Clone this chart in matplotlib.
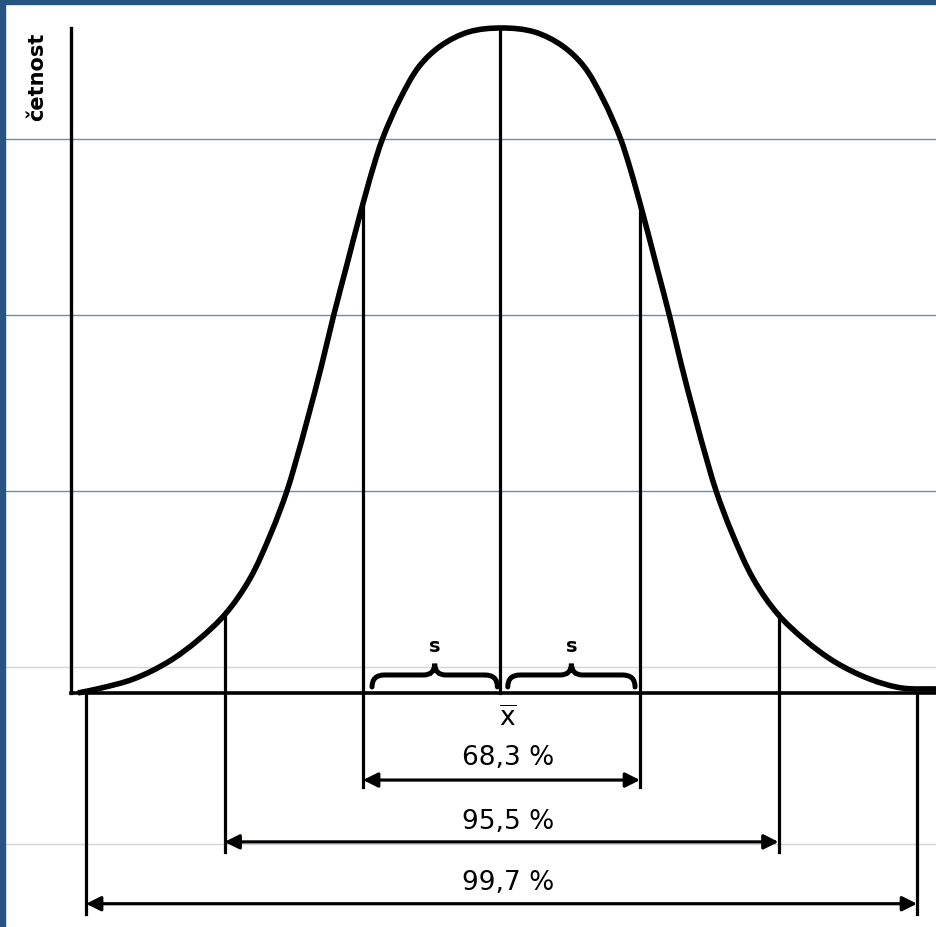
import matplotlib.pyplot as plt
from matplotlib.path import Path
from matplotlib.patches import PathPatch, Rectangle
import numpy as np

# bell curve (x in units of s from the mean, y = relative frequency)
half_width = [0.0, 0.238, 0.440, 0.592, 0.733, 0.860, 0.924, 1.025, 1.119, 1.213, 1.300,
              1.394, 1.495, 1.552, 1.661, 1.819, 1.993, 2.188, 2.404, 2.657, 2.888]
height = [1.0, 0.994, 0.973, 0.943, 0.893, 0.833, 0.792, 0.717, 0.642, 0.567, 0.492,
          0.417, 0.341, 0.302, 0.242, 0.171, 0.119, 0.080, 0.047, 0.021, 0.0075]
# ends of the curve where it runs into the baseline / off the page
left_end = (-3.058, 0.0)
right_end = (3.144, 0.006)

# marker lines at multiples of s, where they meet the curve and how far down they go
sigma_pos = [-3, -2, -1, 0, 1, 2, 3]
sigma_top = [0.0, 0.118, 0.735, 1.0, 0.735, 0.118, 0.0]
sigma_bottom = [-0.332, -0.239, -0.142, 0.0, -0.142, -0.239, -0.332]

# percentage ranges
ranges = [1, 2, 3]
range_labels = ['68,3 %', '95,5 %', '99,7 %']
arrow_y = [-0.131, -0.224, -0.317]
label_y = [-0.096, -0.192, -0.284]

# scanned page lines
blue_lines = [0.833, 0.568, 0.304]
gray_lines = [0.039, -0.227]

fig = plt.figure(figsize=(9.37, 9.28), dpi=100)
ax = fig.add_axes([0, 0, 1, 1])
ax.set_xlim(-3.621, 3.144)
ax.set_ylim(-0.352, 1.0436)
ax.axis('off')

for g in blue_lines:
    ax.axhline(g, color='#668dbb', lw=1.0, zorder=1)
for g in gray_lines:
    ax.axhline(g, color='#d2d6db', lw=1.0, zorder=1)

# axes of the drawing
ax.plot([-3.108, -3.108], [0, 1.0], color='black', lw=2.4, zorder=3)
ax.plot([-3.108, 3.144], [0, 0], color='black', lw=2.6, zorder=3)


def smooth_path(xs, ys, sx=138.5, sy=665.0):
    # chord-length hermite through the traced points, as cubic beziers
    # (tangents worked out in screen-like units so the x/y scales don't bend it)
    p = np.column_stack([np.asarray(xs) * sx, np.asarray(ys) * sy])
    n = len(p)
    d = np.diff(p, axis=0)
    L = np.hypot(d[:, 0], d[:, 1])
    u = d / L[:, None]
    T = np.zeros_like(p)
    T[0] = u[0]
    T[-1] = u[-1]
    for i in range(1, n - 1):
        t = u[i - 1] + u[i]
        T[i] = t / np.hypot(*t)
    verts = [p[0]]
    codes = [Path.MOVETO]
    for i in range(n - 1):
        verts += [p[i] + T[i] * L[i] / 3, p[i + 1] - T[i + 1] * L[i] / 3, p[i + 1]]
        codes += [Path.CURVE4] * 3
    verts = np.array(verts) / [sx, sy]
    return Path(verts, codes)


hw = np.array(half_width)
hh = np.array(height)
cx = np.concatenate([[left_end[0]], -hw[::-1], hw[1:], [right_end[0]]])
cy = np.concatenate([[left_end[1]], hh[::-1], hh[1:], [right_end[1]]])
ax.add_patch(PathPatch(smooth_path(cx, cy), fill=False, lw=4.0,
                       color='black', joinstyle='round', zorder=4))

# vertical lines
for p, t, b in zip(sigma_pos, sigma_top, sigma_bottom):
    xp = p - 0.01 if p == 0 else p
    ax.plot([xp, xp], [b, t], color='black', lw=2.3, zorder=3)

# double arrows with labels
for k, ay, ly, lab in zip(ranges, arrow_y, label_y, range_labels):
    ax.annotate('', xy=(-k, ay), xytext=(k, ay),
                arrowprops=dict(arrowstyle='<|-|>', color='black', lw=2.3,
                                mutation_scale=22, shrinkA=0, shrinkB=0), zorder=3)
    ax.text(0.047, ly, lab, ha='center', va='center', fontsize=19, color='black')

ax.text(0.047, -0.037, r'$\overline{\mathrm{x}}$', ha='center', va='center', fontsize=19)


def brace(x0, x1, yb, ym, yt):
    xc = (x0 + x1) / 2
    r = 0.09
    r2 = 0.08
    verts = [(x0, yb), (x0, ym), (x0 + r, ym),
             (xc - r2, ym), (xc, ym), (xc, yt),
             (xc, ym), (xc + r2, ym),
             (x1 - r, ym), (x1, ym), (x1, yb)]
    codes = [Path.MOVETO, Path.CURVE3, Path.CURVE3,
             Path.LINETO, Path.CURVE3, Path.CURVE3,
             Path.CURVE3, Path.CURVE3,
             Path.LINETO, Path.CURVE3, Path.CURVE3]
    ax.add_patch(PathPatch(Path(verts, codes), fill=False, lw=3.6, color='black',
                           capstyle='round', zorder=4))


brace(-0.935, -0.03, 0.009, 0.027, 0.044)
brace(0.045, 0.964, 0.009, 0.027, 0.044)
ax.text(-0.48, 0.072, 's', ha='center', va='center', fontsize=14, fontweight='bold')
ax.text(0.51, 0.072, 's', ha='center', va='center', fontsize=14, fontweight='bold')

ax.text(-3.35, 0.928, 'četnost', rotation=90, ha='center', va='center',
        fontsize=15, fontweight='bold')

# blue frame on the left and top
fig.patches.append(Rectangle((0, 0), 5 / 937, 1, transform=fig.transFigure,
                             color='#285483', zorder=10))
fig.patches.append(Rectangle((0, 1 - 5 / 928), 1, 5 / 928, transform=fig.transFigure,
                             color='#285483', zorder=10))

fig.savefig('out.png', dpi=100, facecolor='white')
